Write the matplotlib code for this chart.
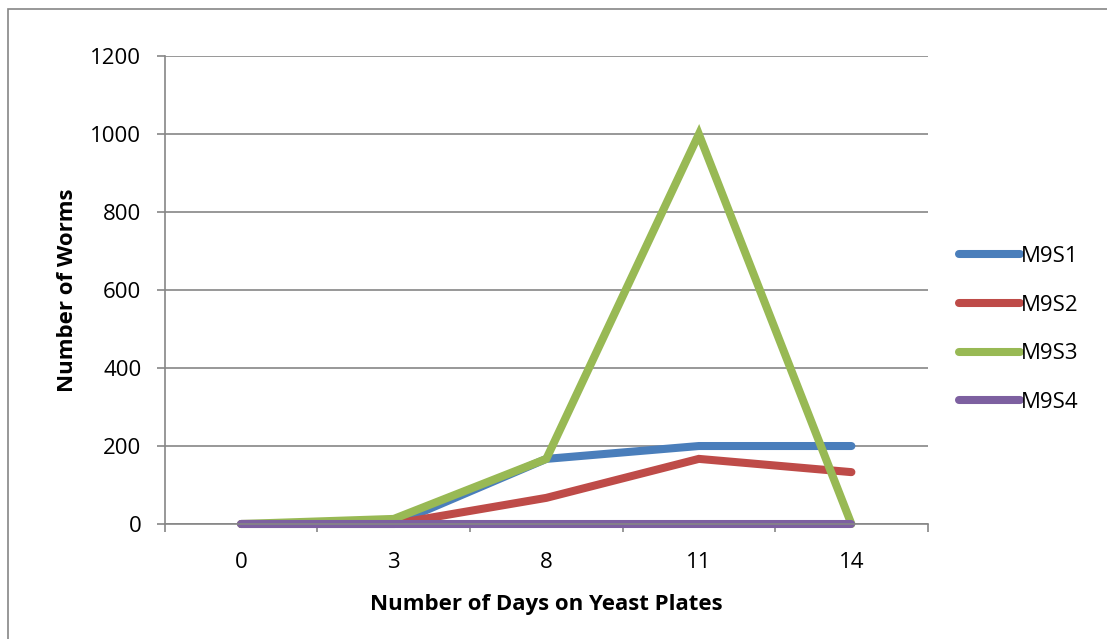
import matplotlib.pyplot as plt
from matplotlib.patches import Rectangle
import numpy as np

plt.rcParams['font.family'] = ['Open Sans', 'DejaVu Sans']

days = ['0', '3', '8', '11', '14']
m9s1 = [0, 0, 167, 200, 200]
m9s2 = [0, 0, 67, 167, 133]
m9s3 = [0, 13, 167, 1000, 0]
m9s4 = [0, 0, 0, 0, 0]

series = [('M9S1', m9s1, '#4a7ebb'),
          ('M9S2', m9s2, '#be4b48'),
          ('M9S3', m9s3, '#98b954'),
          ('M9S4', m9s4, '#7d60a0')]

fig = plt.figure(figsize=(11.07, 6.39), dpi=100)
ax = fig.add_axes([0.149, 0.180, 0.689, 0.732])

x = np.arange(len(days))
for name, vals, col in series:
    ax.plot(x, vals, color=col, lw=5.8, solid_capstyle='round',
            solid_joinstyle='miter', label=name, clip_on=False)

ax.set_xlim(-0.5, len(days) - 0.5)
ax.set_ylim(0, 1200)
ax.set_yticks(np.arange(0, 1201, 200))
ax.set_xticks(x)
ax.set_xticklabels(days)
ax.set_xticks(np.arange(-0.5, len(days), 1), minor=True)
ax.tick_params(axis='x', which='major', length=0, pad=20, labelsize=16)
ax.tick_params(axis='x', which='minor', length=6, color='#868686', width=1.2)
ax.tick_params(axis='y', length=6, color='#868686', width=1.2, pad=11, labelsize=16)

ax.grid(axis='y', color='#868686', lw=1.2)
ax.set_axisbelow(True)
for s in ['top', 'right']:
    ax.spines[s].set_visible(False)
for s in ['left', 'bottom']:
    ax.spines[s].set_color('#868686')
    ax.spines[s].set_linewidth(1.2)

ax.set_ylabel('Number of Worms', fontsize=16, fontweight='bold', labelpad=9)
ax.set_xlabel('Number of Days on Yeast Plates', fontsize=16, fontweight='bold', labelpad=15)

leg = ax.legend(loc='center left', bbox_to_anchor=(1.0406, 0.416), frameon=False,
                fontsize=16, handlelength=2.75, handletextpad=0.05,
                labelspacing=1.25, borderpad=0, borderaxespad=0)
for h in leg.get_lines():
    h.set_solid_capstyle('round')

# outer chart frame
fig.patches.append(Rectangle((8 / 1107, -0.1), 1.2, 1 - 9 / 639 + 0.1,
                             transform=fig.transFigure, fill=False,
                             edgecolor='#868686', lw=1.2))

fig.savefig('out.png', dpi=100)
